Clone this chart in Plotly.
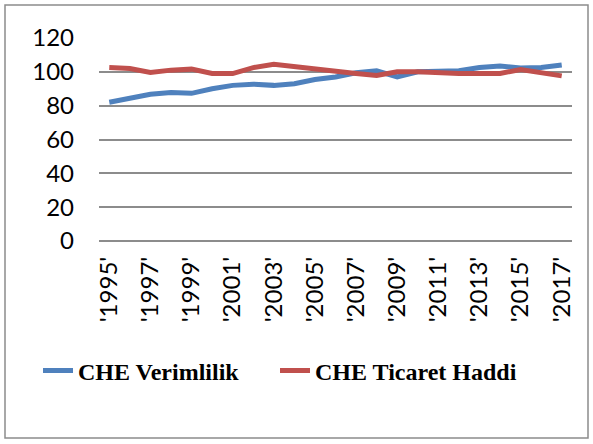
import plotly.graph_objects as go

years = [str(y) for y in range(1995, 2018)]
categories = ["'" + y + "'" for y in years]
verimlilik = [82, 84, 86.7, 87.8, 87.3, 90, 92, 92.7, 92, 93, 95.5, 97,
              99.4, 100.6, 97, 100, 100, 100.6, 102.5, 103.5, 102.3, 102.5, 104]
ticaret = [102.5, 102, 99.6, 101, 101.6, 99, 99, 102.5, 104.5, 103, 101.4, 100,
           99, 97.8, 100, 100, 99.4, 99, 99, 99, 101.4, 99.4, 97.6]
series_names = ["CHE Verimlilik", "CHE Ticaret Haddi"]
y_ticks = [0, 20, 40, 60, 80, 100, 120]

W, H = 593, 444
L, R, T, B = 99, 21, 38, 203
pw, ph = W - L - R, H - T - B

fig = go.Figure()
fig.add_trace(go.Scatter(x=categories, y=verimlilik, mode="lines", name="<b>" + series_names[0] + "</b>",
                         line=dict(color="#4F81BD", width=5), legend="legend"))
fig.add_trace(go.Scatter(x=categories, y=ticaret, mode="lines", name="<b>" + series_names[1] + "</b>",
                         line=dict(color="#C0504D", width=5), legend="legend2"))

def px_x(x):
    return (x - L) / pw

def px_y(y):
    return (H - B - y) / ph

fig.add_shape(type="rect", xref="paper", yref="paper",
              x0=px_x(5), x1=px_x(588), y0=px_y(438), y1=px_y(5),
              line=dict(color="#8c8c8c", width=1.5), layer="below")

legend_font = dict(family="Liberation Serif, Times New Roman, serif", size=24, color="black")

fig.update_layout(
    width=W, height=H,
    margin=dict(l=L, r=R, t=T, b=B, pad=0),
    paper_bgcolor="white", plot_bgcolor="white",
    showlegend=True,
    legend=dict(orientation="h", x=px_x(38), y=px_y(371), xanchor="left", yanchor="middle",
                font=legend_font, itemwidth=30, bgcolor="rgba(0,0,0,0)"),
    legend2=dict(orientation="h", x=px_x(275), y=px_y(371), xanchor="left", yanchor="middle",
                 font=legend_font, itemwidth=30, bgcolor="rgba(0,0,0,0)"),
    xaxis=dict(type="category", categoryorder="array", categoryarray=categories,
               range=[-0.5, len(categories) - 0.5], automargin=False,
               tickmode="array", tickvals=categories[::2], ticktext=categories[::2],
               tickangle=-90, showgrid=False, showline=False, zeroline=False,
               ticks="", ticklen=0, ticklabelstandoff=10,
               tickfont=dict(family="Lato", size=24, color="black")),
    yaxis=dict(range=[0, 120], tickvals=y_ticks, showgrid=True, gridcolor="#8c8c8c",
               gridwidth=1.5, zeroline=True, zerolinecolor="#8c8c8c", zerolinewidth=1.5,
               showline=False, ticks="", ticklabelstandoff=24, automargin=False,
               tickfont=dict(family="Lato", size=24, color="black")),
)

fig.write_html("out.html", config={"displayModeBar": False},
               post_script="document.body.style.margin='0';document.body.style.overflow='hidden';")
